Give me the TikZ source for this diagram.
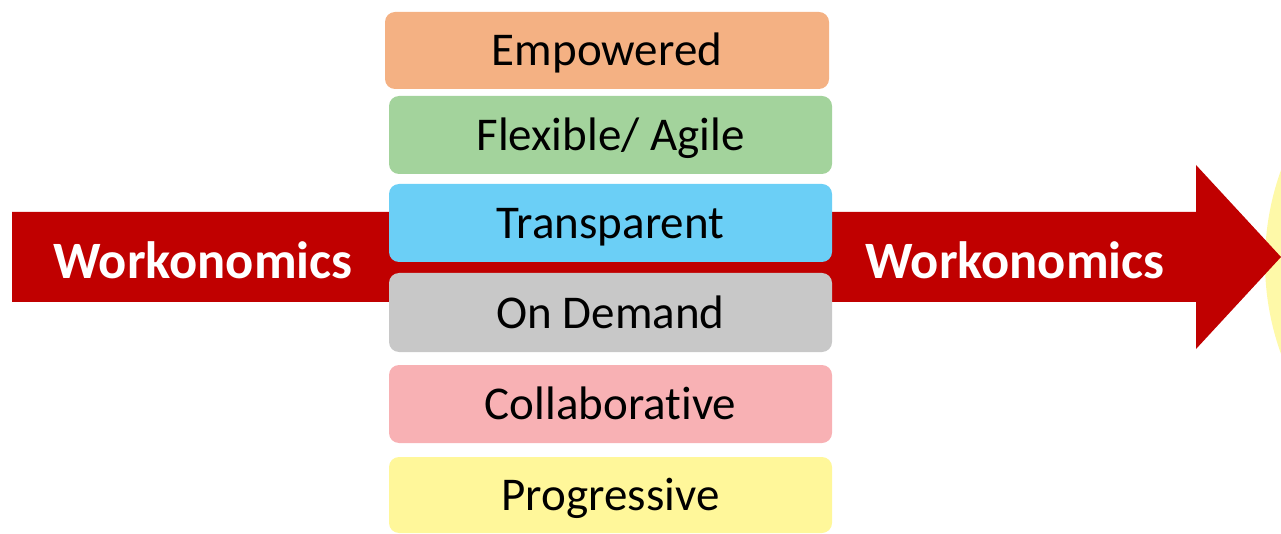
\documentclass[tikz,border=0pt]{standalone}
\usepackage{fontspec}
\setmainfont{Carlito}[Ligatures=NoCommon]
\usepackage{tikz}

\definecolor{arrowred}{HTML}{C00000}
\definecolor{emporange}{HTML}{F4B183}
\definecolor{flexgreen}{HTML}{A3D39C}
\definecolor{transblue}{HTML}{6BCFF6}
\definecolor{demgray}{HTML}{C8C8C8}
\definecolor{collabpink}{HTML}{F8B1B4}
\definecolor{progyellow}{HTML}{FFF79A}
\definecolor{sunyellow}{HTML}{FEF9A8}

\begin{document}
\begin{tikzpicture}[
    x=1pt,y=-1pt,
    trait/.style={rounded corners=10pt,minimum width=443pt,minimum height=78pt,
      inner sep=0pt,text height=33.5pt,text depth=2.5pt,
      font=\fontsize{47}{50}\selectfont},
    arrowtext/.style={text=white,inner sep=0pt,text height=36.8pt,text depth=2.8pt,
      font=\fontsize{52.5}{56}\selectfont\bfseries}
    ]
    \useasboundingbox (0, 0) rectangle (1281, 534);
    \begin{scope}
      \clip (0, 0) rectangle (1281, 534);
      \fill[sunyellow] (1536, 262) circle (271);
    \end{scope}
    \fill[arrowred] (12, 212) -- (1196, 212) -- (1196, 165) -- (1281, 257)
      -- (1196, 349) -- (1196, 302) -- (12, 302) -- cycle;
    \node[arrowtext] (wl) at (203, 262) {Workonomics};
    \node[arrowtext] (wr) at (1015, 262) {Workonomics};
    \node[trait,fill=emporange,minimum width=444pt,minimum height=77pt] (emp) at (607, 50.5) {Empowered};
    \node[trait,fill=flexgreen] (flex) at (610.5, 135) {Flexible/ Agile};
    \node[trait,fill=transblue] (trans) at (610.5, 223) {Transparent};
    \node[trait,fill=demgray,minimum height=79pt] (ondem) at (610.5, 312.5) {On Demand};
    \node[trait,fill=collabpink] (collab) at (610.5, 404) {Collaborative};
    \node[trait,fill=progyellow,minimum height=76pt] (prog) at (610.5, 495) {Progressive};
  \end{tikzpicture}
\end{document}
